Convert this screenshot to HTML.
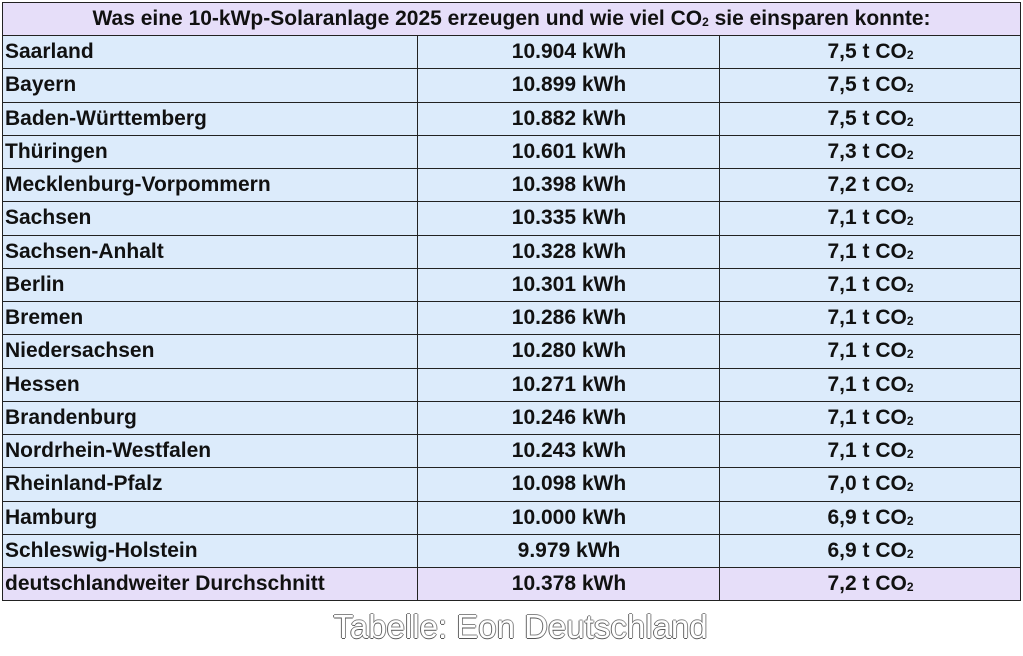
<!DOCTYPE html>
<html><head><meta charset="utf-8"><style>
body{margin:0;width:1023px;height:656px;background:#fff;font-family:"Liberation Sans",sans-serif;position:relative;overflow:hidden}
.r{position:absolute;left:2px;width:1019px;border:1px solid #222;border-top:none;box-sizing:border-box;height:33.25px;background:#dcebfb;font-weight:bold;font-size:21px;color:#111}
.r div{position:absolute;top:0;height:100%;line-height:32px}
.c1{left:2px}
.c2{left:414px;width:302px;text-align:center;border-left:1.5px solid #222}
.c3{left:716px;width:301px;text-align:center;border-left:1.5px solid #222}
.h{background:#e6def9}
sub{font-size:12px;vertical-align:-1px}
.cap{position:absolute;top:608px;left:9px;width:1023px;text-align:center;font-size:33px;color:#fff;text-shadow:-1px 0 #666,0 1px #555,1px 0 #888,0 -1px #888}
</style></head><body>
<div class="r h" style="top:2px;border-top:1px solid #222;height:34px"><div style="left:0;width:100%;text-align:center">Was eine 10-kWp-Solaranlage 2025 erzeugen und wie viel CO<sub>2</sub> sie einsparen konnte:</div></div>
<div id="rows"></div>
<script>
var d=[["Saarland","10.904","7,5"],["Bayern","10.899","7,5"],["Baden-Württemberg","10.882","7,5"],["Thüringen","10.601","7,3"],["Mecklenburg-Vorpommern","10.398","7,2"],["Sachsen","10.335","7,1"],["Sachsen-Anhalt","10.328","7,1"],["Berlin","10.301","7,1"],["Bremen","10.286","7,1"],["Niedersachsen","10.280","7,1"],["Hessen","10.271","7,1"],["Brandenburg","10.246","7,1"],["Nordrhein-Westfalen","10.243","7,1"],["Rheinland-Pfalz","10.098","7,0"],["Hamburg","10.000","6,9"],["Schleswig-Holstein","9.979","6,9"],["deutschlandweiter Durchschnitt","10.378","7,2"]];
var h="";d.forEach(function(x,i){h+='<div class="r'+(i==16?' h':'')+'" style="top:'+(36+i*33.25)+'px"><div class="c1">'+x[0]+'</div><div class="c2">'+x[1]+' kWh</div><div class="c3">'+x[2]+' t CO<sub>2</sub></div></div>'});
document.getElementById("rows").outerHTML=h;
</script>
<div class="cap">Tabelle: Eon Deutschland</div>
</body></html>
